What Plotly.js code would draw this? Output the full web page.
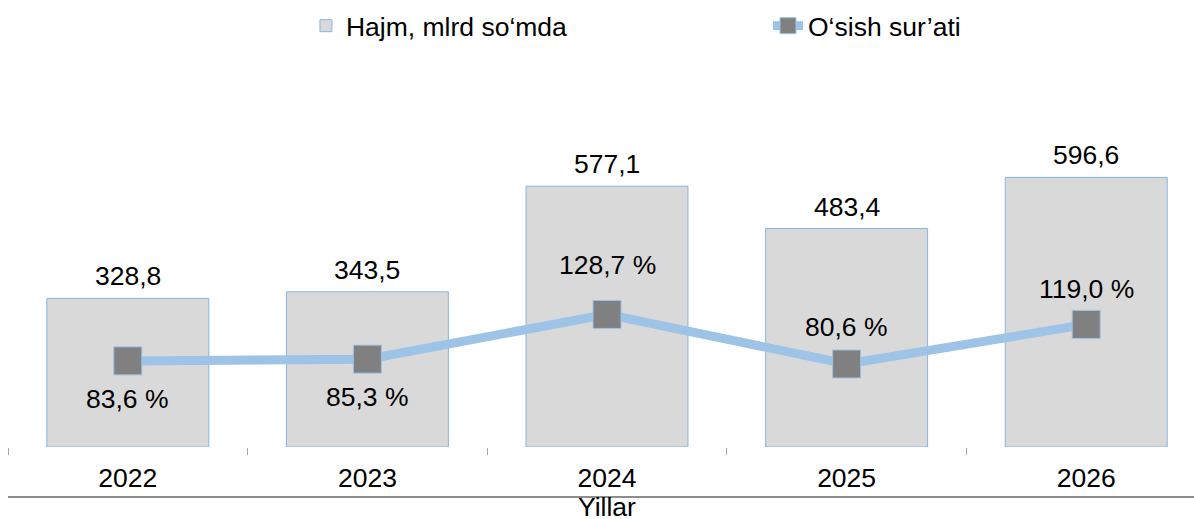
<!DOCTYPE html>
<html>
<head>
<meta charset="utf-8">
<script src="https://cdn.plot.ly/plotly-3.0.1.min.js"></script>
<style>
html,body{margin:0;padding:0;overflow:hidden;background:#fff;}
#chart{width:1206px;height:519px;}
</style>
</head>
<body>
<div id="chart"></div>
<script>
// ---- data ----
const years = ['2022', '2023', '2024', '2025', '2026'];
const volume = [328.8, 343.5, 577.1, 483.4, 596.6];      // Hajm, mlrd so'mda
const growth = [83.6, 85.3, 128.7, 80.6, 119.0];         // O'sish sur'ati, %
const barName = 'Hajm, mlrd so‘mda';
const lineName = 'O‘sish sur’ati';
const axisTitle = 'Yillar';

// ---- formatting ----
const fmt = v => v.toFixed(1).replace('.', ',');
const FONT = 'Liberation Sans, Arial, sans-serif';
const FS = 26.5;

// growth label offsets (px): below for first two, above for the rest
const growthShift = [-38, -38, 49, 37, 35];

const barTrace = {
  type: 'bar',
  name: barName,
  x: years,
  y: volume,
  marker: {color: '#d9d9d9', line: {color: '#86b4e4', width: 1}},
  hoverinfo: 'skip',
  legend: 'legend'
};

const lineTrace = {
  type: 'scatter',
  mode: 'lines+markers',
  name: lineName,
  x: years,
  y: growth,
  yaxis: 'y2',
  line: {color: '#9dc3e6', width: 9},
  marker: {symbol: 'square', size: 28, color: '#808080', line: {color: '#9dc3e6', width: 1}},
  cliponaxis: false,
  hoverinfo: 'skip',
  legend: 'legend2'
};

const barLabels = years.map((yr, i) => ({
  x: i, y: volume[i], xref: 'x', yref: 'y',
  text: fmt(volume[i]),
  showarrow: false, yanchor: 'bottom', yshift: 5,
  font: {family: FONT, size: FS, color: '#000'}
}));

const growthLabels = years.map((yr, i) => ({
  x: i, y: growth[i], xref: 'x', yref: 'y2',
  text: fmt(growth[i]) + ' %',
  showarrow: false, yanchor: 'middle',
  yshift: growthShift[i],
  font: {family: FONT, size: FS, color: '#000'}
}));

const axisTitleAnn = {
  xref: 'paper', yref: 'paper', x: 0.5, y: 0,
  xanchor: 'center', yanchor: 'top', yshift: -43,
  text: axisTitle, showarrow: false,
  font: {family: FONT, size: FS, color: '#000'}
};

const plotH = 519 - 90 - 72;
const hiddenAxis = {showgrid: false, zeroline: false, showline: false, showticklabels: false, ticks: '', fixedrange: true};

const layout = {
  width: 1206, height: 519,
  margin: {l: 8, r: 0, t: 90, b: 72},
  paper_bgcolor: '#fff', plot_bgcolor: '#fff',
  font: {family: FONT, size: FS, color: '#000'},
  bargap: 0.324,
  showlegend: true,
  xaxis: {
    type: 'category',
    range: [-0.5, 4.5],
    showline: false, showgrid: false, zeroline: false,
    ticks: 'outside', tickson: 'boundaries', ticklen: 7, tickwidth: 1, tickcolor: '#a6a6a6',
    ticklabelstandoff: 12,
    tickfont: {family: FONT, size: FS, color: '#000'},
    automargin: false,
    fixedrange: true
  },
  yaxis: Object.assign({range: [0, 790]}, hiddenAxis),
  yaxis2: Object.assign({range: [0, plotH / 1.03], overlaying: 'y', side: 'right'}, hiddenAxis),
  legend: {
    orientation: 'h', x: 0.2487, xanchor: 'left', y: 0.95, yref: 'container', yanchor: 'middle',
    font: {family: FONT, size: FS, color: '#000'}, bgcolor: 'rgba(0,0,0,0)'
  },
  legend2: {
    orientation: 'h', x: 0.6344, xanchor: 'left', y: 0.95, yref: 'container', yanchor: 'middle',
    font: {family: FONT, size: FS, color: '#000'}, bgcolor: 'rgba(0,0,0,0)'
  },
  shapes: [{
    type: 'line', xref: 'paper', yref: 'paper',
    x0: 0, x1: 1, y0: -50 / plotH, y1: -50 / plotH,
    line: {color: '#8c8c8c', width: 2}
  }],
  annotations: barLabels.concat(growthLabels, [axisTitleAnn])
};

Plotly.newPlot('chart', [barTrace, lineTrace], layout, {staticPlot: true, displayModeBar: false});
</script>
</body>
</html>
